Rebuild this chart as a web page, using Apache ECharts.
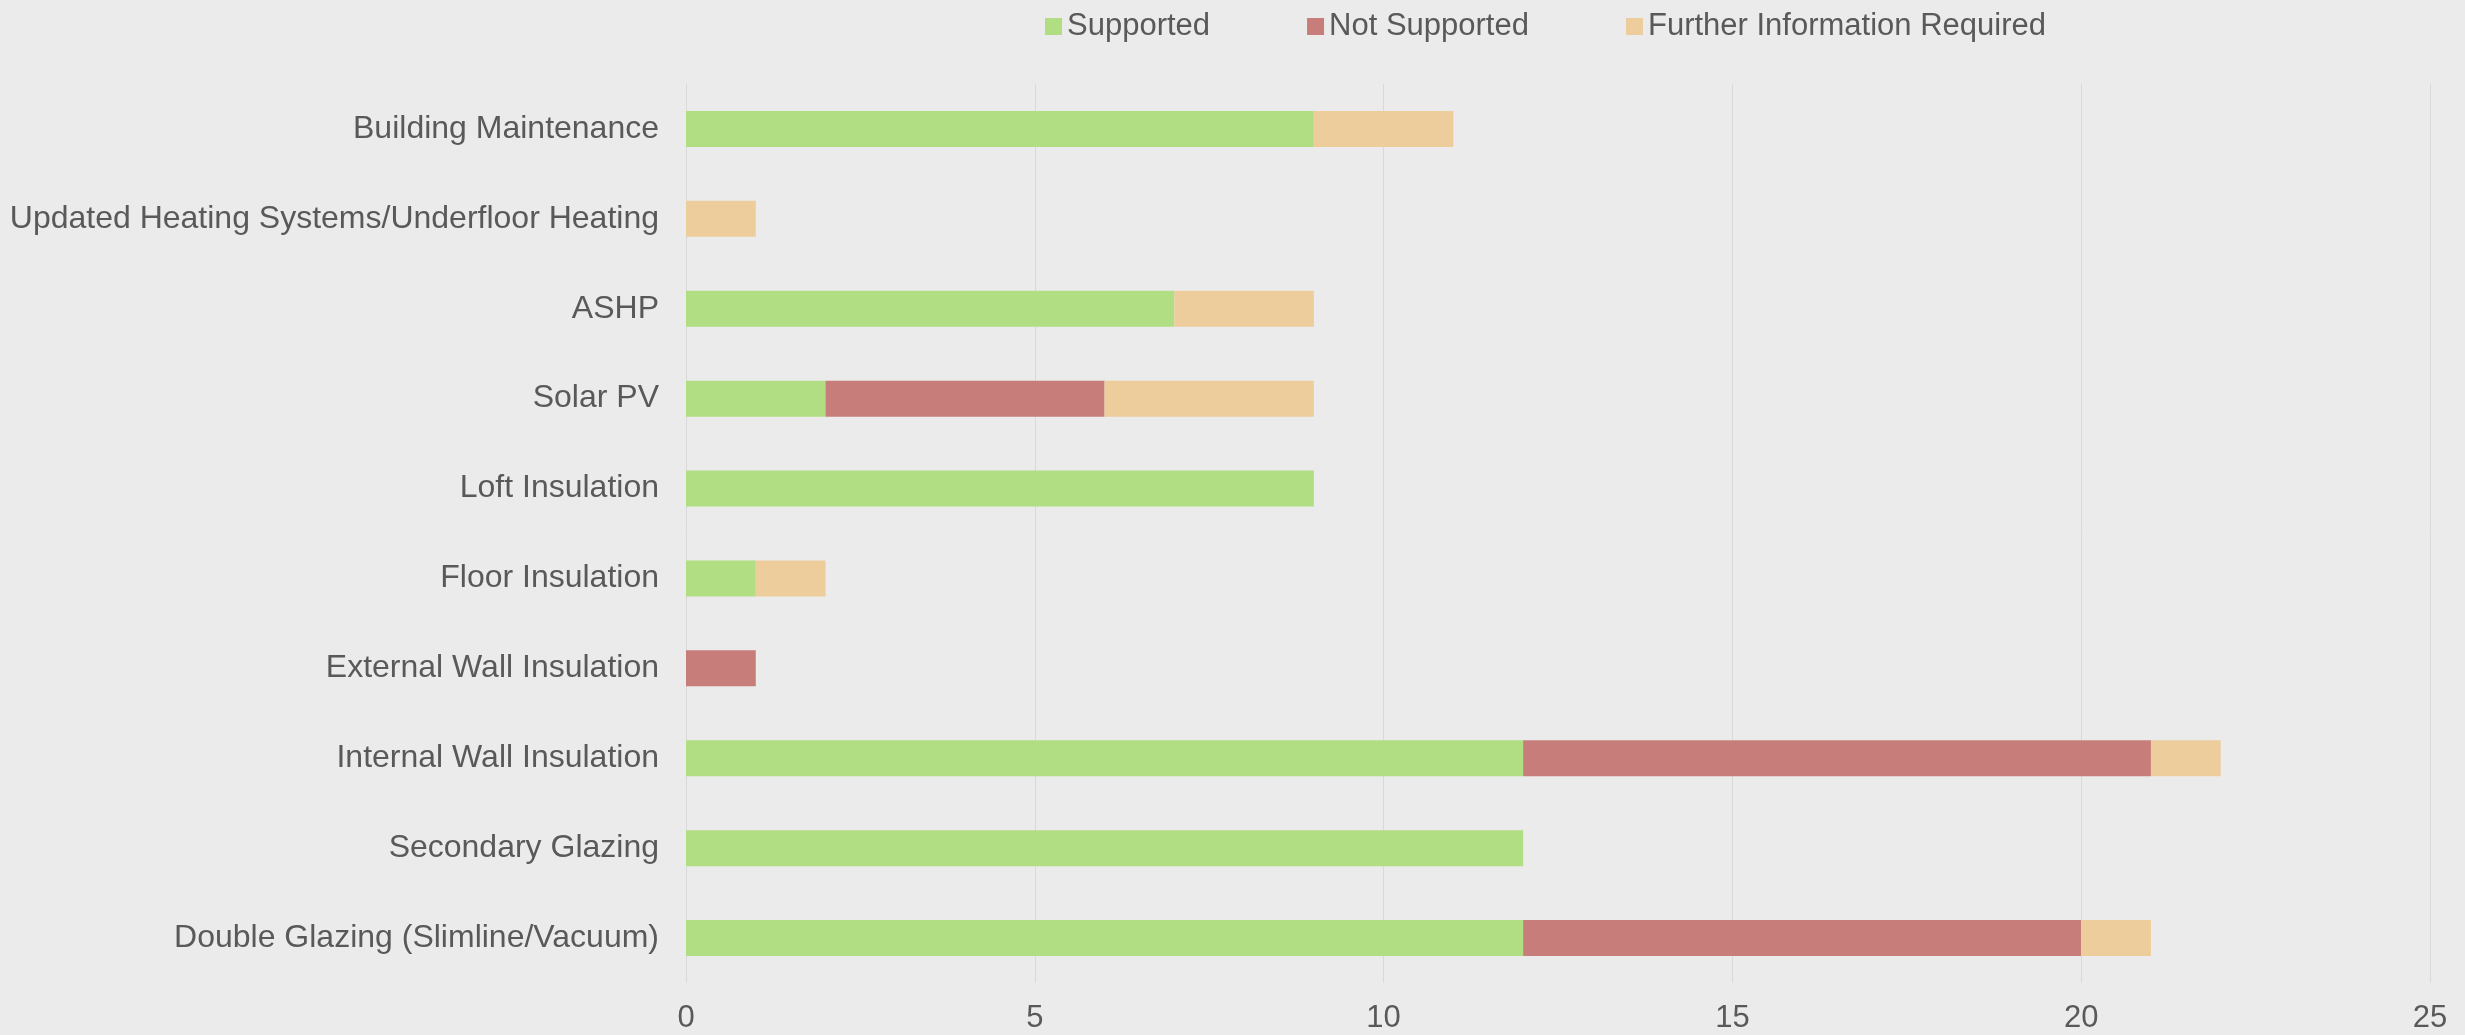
<!DOCTYPE html>
<html>
<head>
<meta charset="utf-8">
<style>
  html, body { margin: 0; padding: 0; background: #EBEBEB; }
  #chart { width: 2465px; height: 1035px; }
</style>
<script src="https://cdn.jsdelivr.net/npm/echarts@6/dist/echarts.min.js"></script>
</head>
<body>
<div id="chart"></div>
<script>
// Measures, listed top to bottom
const categories = [
  'Building Maintenance',
  'Updated Heating Systems/Underfloor Heating',
  'ASHP',
  'Solar PV',
  'Loft Insulation',
  'Floor Insulation',
  'External Wall Insulation',
  'Internal Wall Insulation',
  'Secondary Glazing',
  'Double Glazing (Slimline/Vacuum)'
];
const supported    = [9, 0, 7, 2, 9, 1, 0, 12, 12, 12];
const notSupported = [0, 0, 0, 4, 0, 0, 1, 9, 0, 8];
const furtherInfo  = [2, 1, 2, 3, 0, 1, 0, 1, 0, 1];

const xTicks = { min: 0, max: 25, interval: 5 };

const fontFamily = '"Liberation Sans", Arial, sans-serif';
const textColor = '#595959';

function barSeries(name, data, color) {
  return {
    name: name,
    type: 'bar',
    stack: 'total',
    data: data,
    barWidth: 36,
    itemStyle: { color: color },
    emphasis: { disabled: true }
  };
}

const chart = echarts.init(document.getElementById('chart'));
chart.setOption({
  backgroundColor: '#EBEBEB',
  animation: false,
  textStyle: { fontFamily: fontFamily },
  legend: {
    top: 6,
    left: 1040,
    icon: 'rect',
    itemWidth: 17,
    itemHeight: 17,
    itemGap: 97,
    textStyle: { fontSize: 31, color: textColor, fontFamily: fontFamily }
  },
  grid: {
    left: 686,
    right: 35,
    top: 84,
    bottom: 52,
    containLabel: false
  },
  xAxis: {
    type: 'value',
    min: xTicks.min,
    max: xTicks.max,
    interval: xTicks.interval,
    axisLine: { show: false },
    axisTick: { show: false },
    splitLine: { show: true, lineStyle: { color: '#D9D9D9', width: 1 } },
    axisLabel: { fontSize: 31, color: textColor, margin: 20, fontFamily: fontFamily }
  },
  yAxis: {
    type: 'category',
    data: categories,
    inverse: true,
    axisLine: { show: false },
    axisTick: { show: false },
    axisLabel: { fontSize: 32, color: textColor, margin: 27, fontFamily: fontFamily }
  },
  series: [
    barSeries('Supported', supported, '#B1DE82'),
    barSeries('Not Supported', notSupported, '#C77E7A'),
    barSeries('Further Information Required', furtherInfo, '#EDCD9C')
  ]
});
</script>
</body>
</html>
